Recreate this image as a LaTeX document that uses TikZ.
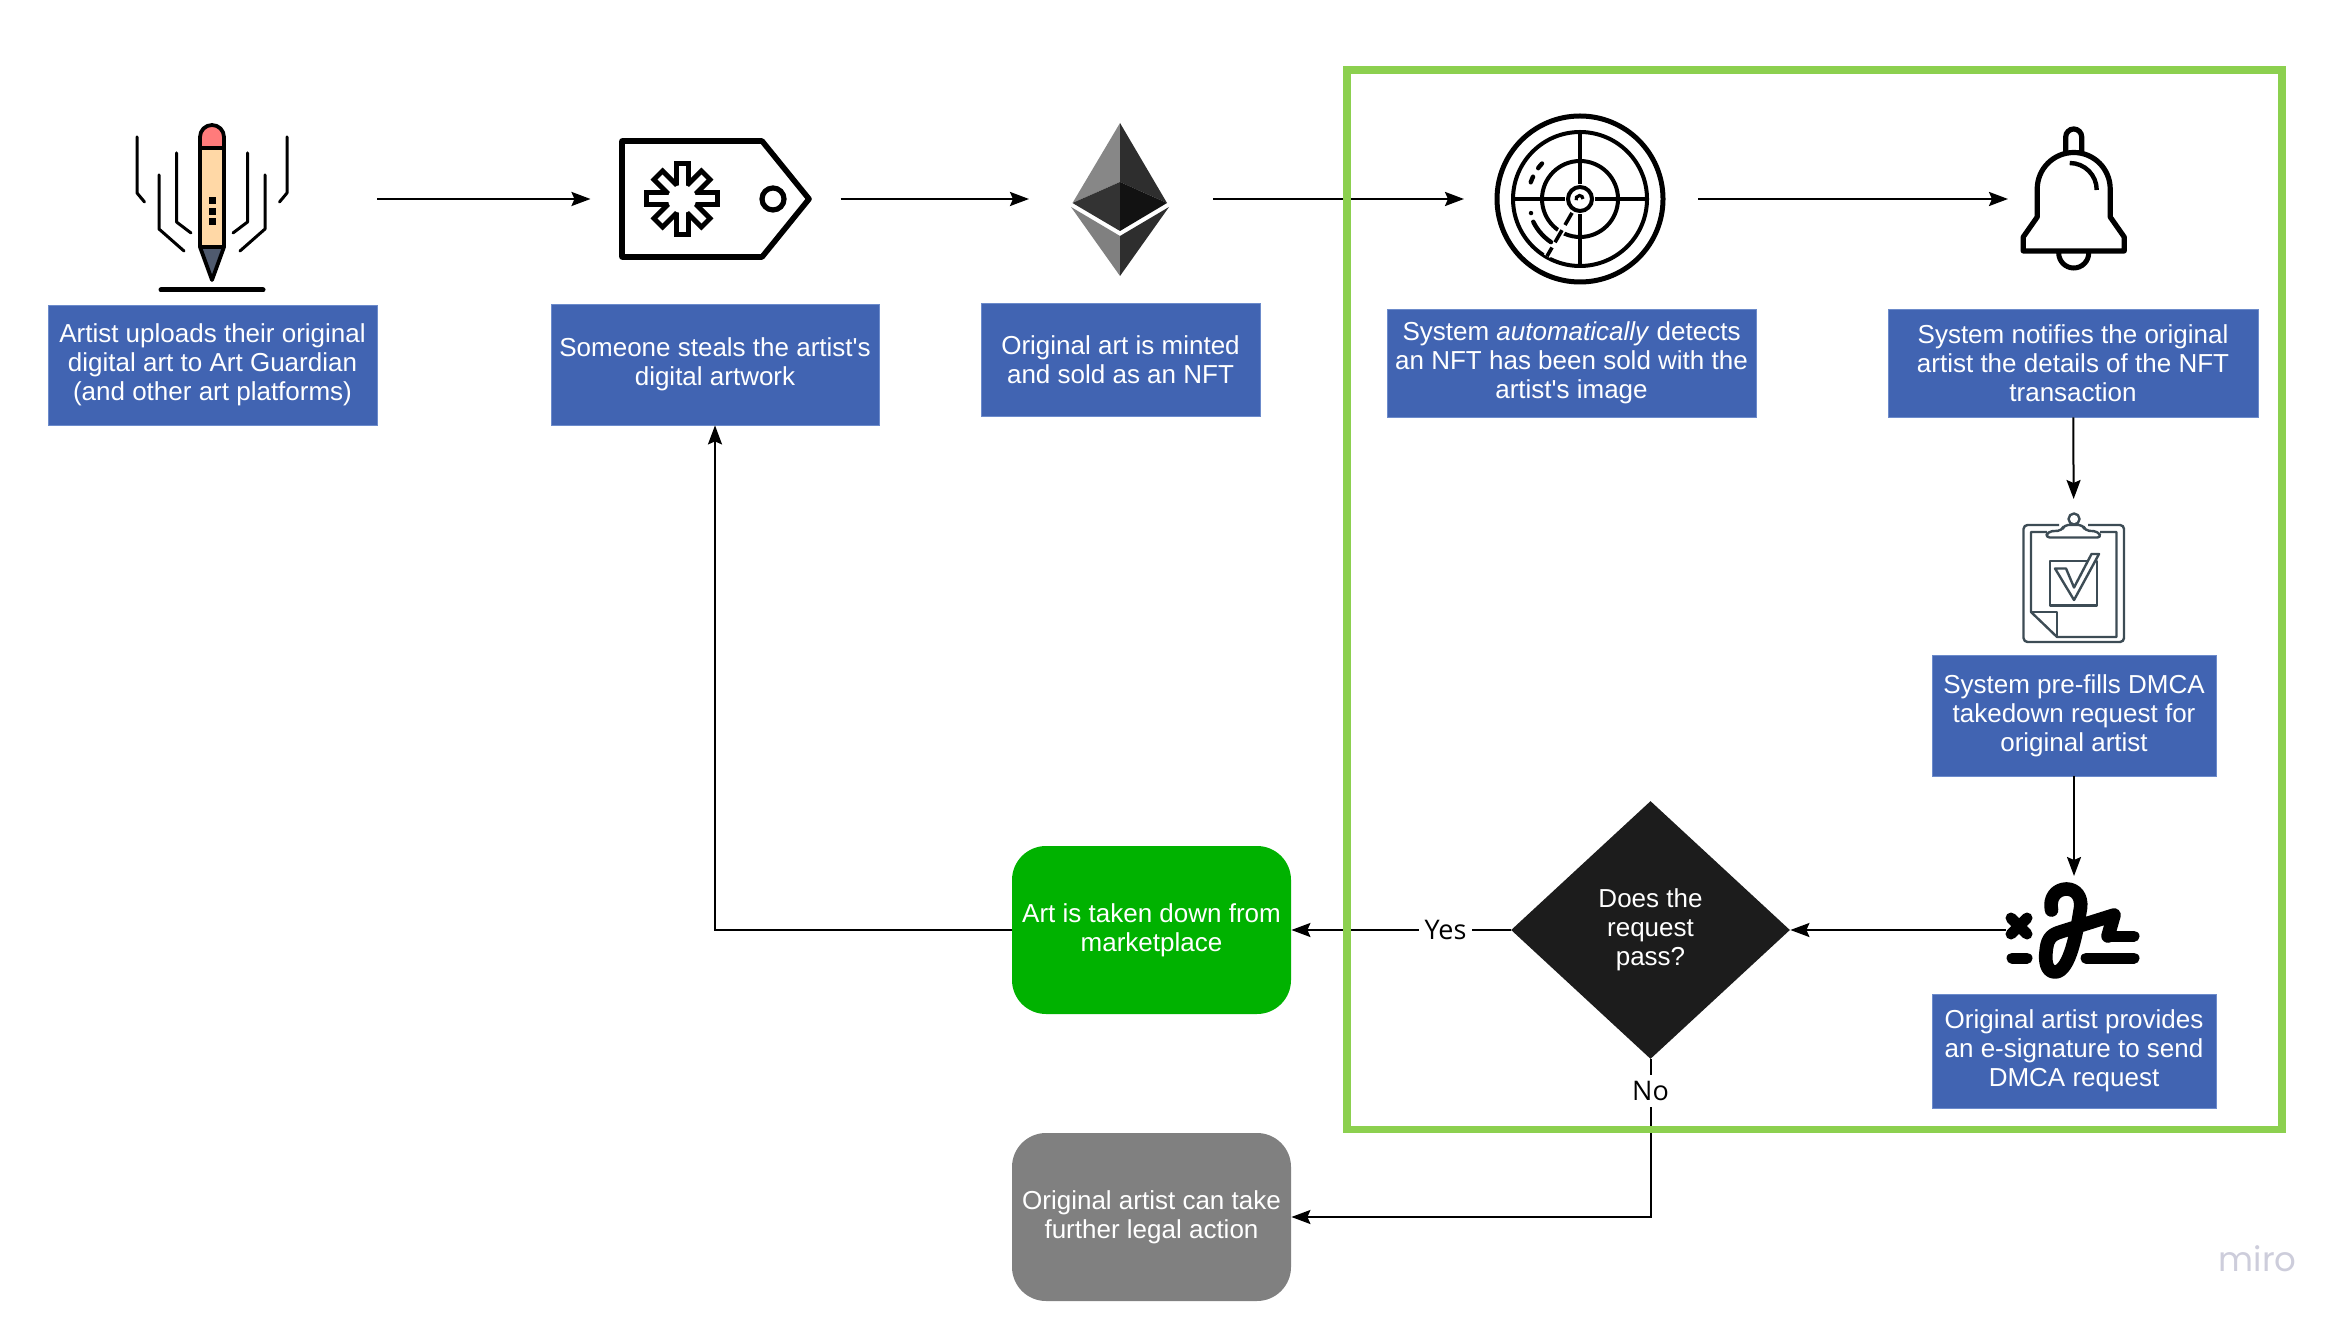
\documentclass[tikz,border=0pt]{standalone}
\usepackage{fontspec}
\setmainfont{Liberation Sans}
\newfontfamily\labelfont{Open Sans}
\newfontfamily\markfont{Poppins}
\usetikzlibrary{shapes.geometric,arrows.meta}
\definecolor{boxblue}{HTML}{4164B2}
\definecolor{boxedge}{HTML}{6C8BCB}
\definecolor{framegreen}{HTML}{8CD04F}
\definecolor{okgreen}{HTML}{00B200}
\definecolor{stopgray}{HTML}{808080}
\definecolor{clipslate}{HTML}{3D4C55}
\definecolor{markgray}{HTML}{CDCDDB}
\definecolor{eraserred}{HTML}{FF7B7B}
\definecolor{bodytan}{HTML}{FFD8A6}
\definecolor{tipslate}{HTML}{4F5A6E}
\tikzset{
  bluebox/.style={rectangle, draw=boxedge, line width=0.4pt, fill=boxblue, text=white, align=center, inner sep=0pt, font=\fontsize{13}{14.5}\selectfont},
  endbox/.style={rectangle, rounded corners=17pt, text=white, align=center, inner sep=0pt, minimum width=139.5pt, minimum height=84pt, font=\fontsize{13}{14.5}\selectfont},
  slot/.style={inner sep=0pt, outer sep=0pt},
  flow/.style={line width=1pt, -{Stealth[length=9.5pt,width=7pt,inset=1.5pt]}},
  topflow/.style={flow, line width=1.25pt},
  edgelabel/.style={fill=white, inner sep=3pt, font=\labelfont\fontsize{13.5}{15}\selectfont},
  icon/.style={line width=1.5pt, line cap=round, line join=round},
  clip line/.style={draw=clipslate, line width=1.2pt, line join=round}
}
\begin{document}
\begin{tikzpicture}[x=0.5pt,y=-0.5pt]
\useasboundingbox (0,0) rectangle (2348,1325);

\node[bluebox, minimum width=164.5pt, minimum height=60pt] (upload) at (212.5,365) {Artist uploads their original\\digital art to Art Guardian\\(and other art platforms)};
\node[bluebox, minimum width=164pt, minimum height=60.5pt] (steal) at (715,364.5) {Someone steals the artist\textquotesingle s\\digital artwork};
\node[bluebox, minimum width=139.5pt, minimum height=56.5pt] (mint) at (1120.5,360) {Original art is minted\\and sold as an NFT};
\node[bluebox, minimum width=184.5pt, minimum height=54pt] (detect) at (1571.5,363) {System \textit{automatically} detects\\an NFT has been sold with the\\artist\textquotesingle s image};
\node[bluebox, minimum width=185pt, minimum height=54pt] (notify) at (2073,363) {System notifies the original\\artist the details of the NFT\\transaction};
\node[bluebox, minimum width=142pt, minimum height=60.5pt] (prefill) at (2074,715.5) {System pre-fills DMCA\\takedown request for\\original artist};
\node[bluebox, minimum width=142pt, minimum height=57pt] (esign) at (2074,1051) {Original artist provides\\an e-signature to send\\DMCA request};

\node[endbox, fill=okgreen] (taken) at (1151.5,930) {Art is taken down from\\marketplace};
\node[endbox, fill=stopgray] (legal) at (1151.5,1217) {Original artist can take\\further legal action};
\node[diamond, fill=black!89, text=white, align=center, inner sep=0pt, minimum width=139.5pt, minimum height=129pt, font=\fontsize{13}{14.5}\selectfont] (pass) at (1650.5,930) {Does the\\request\\pass?};

\node[slot, minimum width=164.5pt, minimum height=90pt] (pencil) at (212.5,199) {};
\node[slot, minimum width=125pt, minimum height=70pt] (tag) at (715.5,199) {};
\node[slot, minimum width=92pt, minimum height=80pt] (eth) at (1121,199) {};
\node[slot, minimum width=117pt, minimum height=90pt] (radar) at (1581,199) {};
\node[slot, minimum width=65pt, minimum height=80pt] (bell) at (2073,199) {};
\node[slot, minimum width=60pt, minimum height=82pt] (clipboard) at (2074,581) {};
\node[slot, minimum width=68pt, minimum height=54pt] (signature) at (2074,930) {};

\draw[topflow] (pencil) -- (tag);
\draw[topflow] (tag) -- (eth);
\draw[topflow] (eth) -- (radar);
\draw[topflow] (radar) -- (bell);
\draw[flow] (notify) -- (clipboard);
\draw[flow] (prefill) -- (signature);
\draw[flow] (signature) -- (pass);
\draw[flow] (pass) -- node[edgelabel, pos=0.297] {Yes} (taken);
\draw[flow] (taken) -| (steal);
\draw[flow] (pass) |- node[edgelabel, pos=0.1] {No} (legal);

\draw[framegreen, line width=3.8pt] (1346.7,70.3) rectangle (2282,1129.5);

% pencil
\draw[icon, line width=1.9pt, fill=eraserred] (200,148) -- (200,137) arc[start angle=180, end angle=360, radius=12] -- (224,148) -- cycle;
\draw[icon, line width=1.9pt, fill=bodytan] (200,148) rectangle (224,247);
\draw[icon, line width=1.9pt, fill=tipslate] (200,247) -- (224,247) -- (212,280) -- cycle;
\foreach \doty in {201,212,222} \fill (208.5,\doty-3.5) rectangle (215.5,\doty+3.5);
\draw[icon, line width=2.5pt] (161,290) -- (263,290);
\draw[icon] (137,137) -- (137,193) -- (144.5,202);
\draw[icon] (176.5,153) -- (176.5,222) -- (191,233);
\draw[icon] (159,175) -- (159,229) -- (184,251);
\draw[icon] (287,137) -- (287,193) -- (279.5,202);
\draw[icon] (247.5,153) -- (247.5,222) -- (233,233);
\draw[icon] (265,175) -- (265,229) -- (240,251);

% tag
\draw[line width=2.8pt, line join=round] (622,141) -- (762,141) -- (809,199) -- (762,257) -- (622,257) -- cycle;
\draw[line width=2.6pt] (773,199) circle[radius=11];
\foreach \spoke/\len in {0/38,45/36,90/38,135/36,180/38,225/36,270/38,315/36} \draw[line width=8.5pt] (682,199) -- ++(\spoke:\len);
\foreach \spoke/\len in {0/33,45/31,90/33,135/31,180/33,225/31,270/33,315/31} \draw[white, line width=3.5pt] (682,199) -- ++(\spoke:\len);
\fill[white] (682,199) circle[radius=14];

% eth
\fill[black!47] (1120,123) -- (1072.5,203) -- (1120,182) -- cycle;
\fill[black!82] (1120,123) -- (1167,203) -- (1120,182) -- cycle;
\fill[black!80] (1120,182) -- (1072.5,203) -- (1120,231) -- cycle;
\fill[black!93] (1120,182) -- (1167,203) -- (1120,231) -- cycle;
\fill[black!50] (1071,207) -- (1120,236) -- (1120,276) -- cycle;
\fill[black!82] (1169,207) -- (1120,236) -- (1120,276) -- cycle;

% radar
\begin{scope}[shift={(1580,199)},yscale=-1]
\draw[line width=2.5pt] (0,0) circle[radius=83];
\draw[line width=2pt] (0,0) circle[radius=67];
\draw[line width=2pt] (0,0) circle[radius=38];
\draw[line width=2pt] (-67,0) -- (67,0);
\draw[line width=2pt] (0,-67) -- (0,67);
\fill[white] (0,0) circle[radius=15];
\draw[line width=2pt] (0,0) circle[radius=12];
\draw[line width=1.6pt] (3,0) arc[start angle=0, end angle=200, radius=3.5];
\draw[white, line width=3.5pt] (240:16) -- (240:66);
\draw[line width=1.8pt, dash pattern=on 7pt off 3pt] (240:16) -- (240:66);
\draw[line width=2.2pt, line cap=round, dash pattern=on 3pt off 5pt] (137:52) arc[start angle=137, end angle=168, radius=52];
\draw[line width=2.2pt, line cap=round] (196:51) -- (196.1:51);
\draw[line width=2.2pt, line cap=round] (206:52) arc[start angle=206, end angle=236, radius=52];
\end{scope}

% bell
\begin{scope}[shift={(2073.7,199)},yscale=-1]
\draw[line width=2.6pt] (-8,47) -- (-8,62) arc[start angle=180, end angle=0, radius=8] -- (8,47);
\draw[line width=2.6pt, line join=round, fill=white] (-50.5,-52) -- (-50.5,-38) -- (-36.5,-18) -- (-36.5,10) arc[start angle=180, end angle=0, radius=36.5] -- (36.5,-18) -- (50.5,-38) -- (50.5,-52) -- cycle;
\draw[line width=2.2pt] (-4,36) arc[start angle=90, end angle=0, radius=27];
\draw[line width=2.5pt] (-15,-54) arc[start angle=180, end angle=360, radius=15];
\end{scope}

% clipboard
\draw[clip line, rounded corners=2pt] (2059,525) -- (2023.5,525) -- (2023.5,642) -- (2124,642) -- (2124,525) -- (2088,525);
\draw[clip line] (2047,532) -- (2031,532) -- (2031,612) -- (2057,637) -- (2116.5,637) -- (2116.5,532) -- (2100,532);
\draw[clip line] (2031,612) -- (2057,612) -- (2057,637);
\draw[clip line, rounded corners=2pt] (2045.5,537.5) -- (2101.5,537.5) -- (2098,531.5) -- (2085,530.5) -- (2083,525) -- (2064,525) -- (2062,530.5) -- (2048,531.5) -- cycle;
\draw[clip line, fill=white] (2074,519) circle[radius=5.5];
\draw[clip line] (2050,561) rectangle (2097,605.5);
\draw[clip line, fill=white] (2055,568.5) -- (2066,568.5) -- (2074,587.5) -- (2091.5,554) -- (2099,554) -- (2074,600) -- cycle;

% signature
\draw[line width=5.5pt, line cap=round] (2012,958) -- (2027,958);
\draw[line width=5.5pt, line cap=round] (2086,958) -- (2134,958);
\draw[line width=5.5pt, line cap=round] (2108,936) -- (2134,936);
\draw[line width=5.5pt, line cap=round] (2011,918) -- (2027,934);
\draw[line width=5.5pt, line cap=round] (2027,918) -- (2011,934);
\draw[white, line width=9pt] (2074,945) -- (2068,970);
\draw[line width=6.8pt, line cap=round, line join=round] (2051.5,910) .. controls (2049,898) and (2056,889) .. (2066.5,889) .. controls (2076,889) and (2082,897) .. (2080.5,908) .. controls (2077,930) and (2070,972) .. (2055,972) .. controls (2046,972) and (2045,960) .. (2046,952) .. controls (2047,940) and (2050,935) .. (2060,932) -- (2114,915) -- (2108,936);

\node[markgray, font=\markfont\fontsize{17}{20}\selectfont] (miro) at (2257.5,1259) {miro};
\end{tikzpicture}
\end{document}
